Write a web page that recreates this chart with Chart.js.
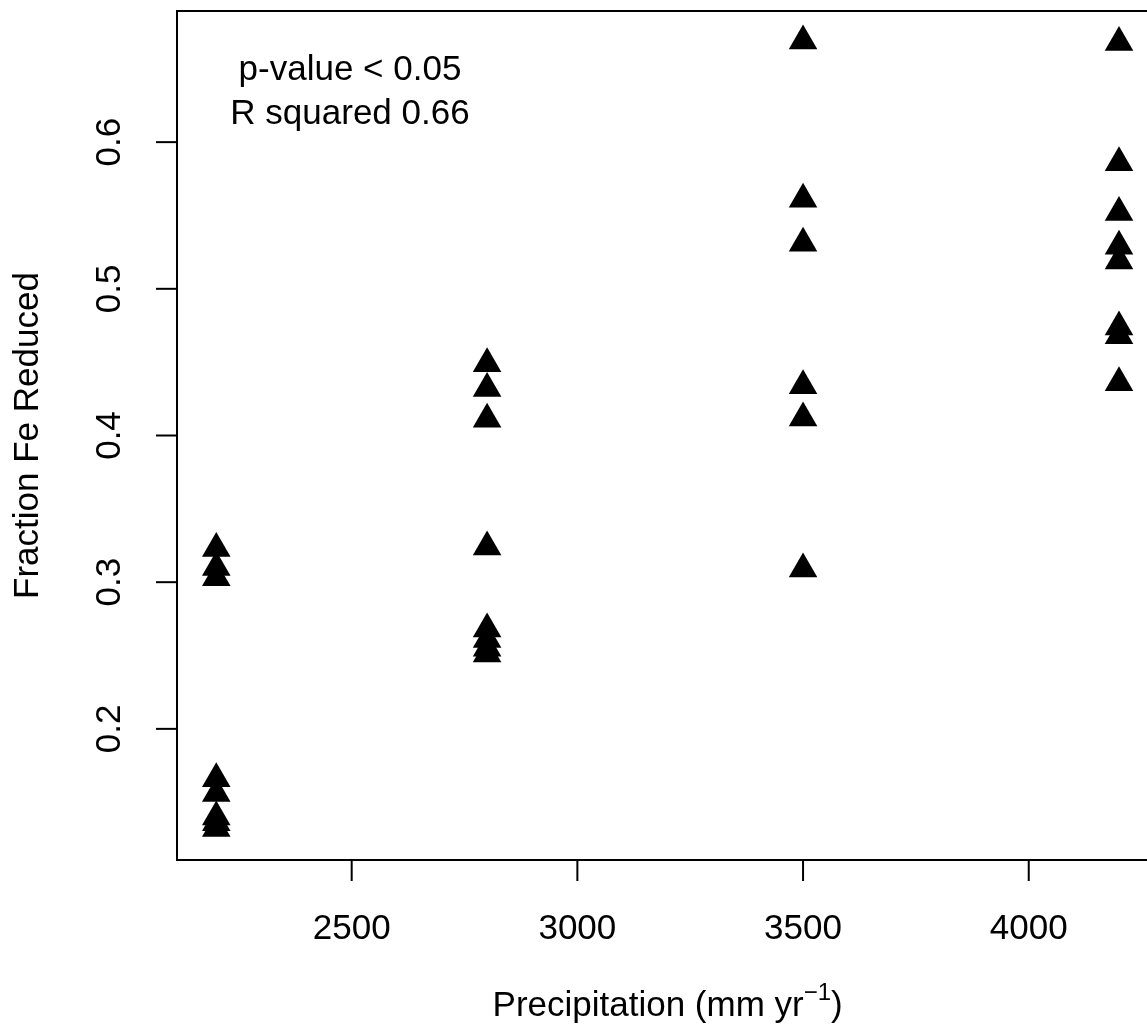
<!DOCTYPE html>
<html>
<head>
<meta charset="utf-8">
<script src="https://cdn.jsdelivr.net/npm/chart.js@4.4.1/dist/chart.umd.min.js"></script>
<style>
html, body { margin: 0; padding: 0; background: #fff; overflow: hidden; }
#wrap { width: 1147px; height: 1028px; }
canvas { display: block; }
</style>
</head>
<body>
<div id="wrap"><canvas id="plot" width="1147" height="1028"></canvas></div>
<script>
// measurements per site
const precipitation = [
    2200, 2200, 2200, 2200, 2200, 2200, 2200, 2200,
    2800, 2800, 2800, 2800, 2800, 2800, 2800, 2800,
    3500, 3500, 3500, 3500, 3500, 3500,
    4200, 4200, 4200, 4200, 4200, 4200, 4200, 4200
];
const fractionFe = [
    0.323, 0.310, 0.303, 0.166, 0.156, 0.140, 0.136, 0.132,
    0.449, 0.432, 0.411, 0.324, 0.268, 0.261, 0.255, 0.251,
    0.669, 0.561, 0.531, 0.434, 0.412, 0.309,
    0.668, 0.586, 0.552, 0.529, 0.519, 0.474, 0.468, 0.436
];
const xTicks = [2500, 3000, 3500, 4000];
const yTicks = [0.2, 0.3, 0.4, 0.5, 0.6];
// the plot region runs past the right edge of the page
const xRange = [2113, 4262];
const yRange = [0.1106, 0.6894];
const statLines = ['p-value < 0.05', 'R squared 0.66'];

const FONT = '35px "Liberation Sans", Arial, sans-serif';
const SMALL = '24px "Liberation Sans", Arial, sans-serif';

const points = precipitation.map((p, i) => ({ x: p, y: fractionFe[i] }));

// R-style frame, outward ticks and labels
const basePlot = {
    id: 'basePlot',
    afterDraw(chart) {
        const ctx = chart.ctx;
        const a = chart.chartArea;
        const xs = chart.scales.x;
        const ys = chart.scales.y;
        ctx.save();
        ctx.strokeStyle = '#000';
        ctx.fillStyle = '#000';
        ctx.lineWidth = 2;
        ctx.beginPath();
        ctx.moveTo(a.right + 10, a.top);
        ctx.lineTo(a.left, a.top);
        ctx.lineTo(a.left, a.bottom);
        ctx.lineTo(a.right + 10, a.bottom);
        ctx.stroke();

        ctx.font = FONT;
        ctx.textAlign = 'center';
        ctx.textBaseline = 'alphabetic';
        xTicks.forEach(v => {
            const px = xs.getPixelForValue(v);
            ctx.beginPath();
            ctx.moveTo(px, a.bottom);
            ctx.lineTo(px, a.bottom + 21);
            ctx.stroke();
            ctx.fillText(String(v), px, 939);
        });

        yTicks.forEach(v => {
            const py = ys.getPixelForValue(v);
            ctx.beginPath();
            ctx.moveTo(a.left - 21, py);
            ctx.lineTo(a.left, py);
            ctx.stroke();
            ctx.save();
            ctx.translate(120, py);
            ctx.rotate(-Math.PI / 2);
            ctx.fillText(v.toFixed(1), 0, 0);
            ctx.restore();
        });

        // y axis title
        ctx.save();
        ctx.translate(38, (a.top + a.bottom) / 2);
        ctx.rotate(-Math.PI / 2);
        ctx.fillText('Fraction Fe Reduced', 0, 0);
        ctx.restore();

        // x axis title with superscript, centred on the full plot width
        const mainTxt = 'Precipitation (mm yr';
        const supTxt = '\u22121';
        const endTxt = ')';
        ctx.font = FONT;
        const w1 = ctx.measureText(mainTxt).width;
        const w3 = ctx.measureText(endTxt).width;
        ctx.font = SMALL;
        const w2 = ctx.measureText(supTxt).width;
        const cx = (xs.getPixelForValue(2120) + xs.getPixelForValue(4280)) / 2;
        const x0 = cx - (w1 + w2 + w3) / 2;
        ctx.textAlign = 'left';
        ctx.font = FONT;
        ctx.fillText(mainTxt, x0, 1016);
        ctx.font = SMALL;
        ctx.fillText(supTxt, x0 + w1, 1000);
        ctx.font = FONT;
        ctx.fillText(endTxt, x0 + w1 + w2, 1016);

        // fit statistics
        ctx.textAlign = 'center';
        ctx.fillText(statLines[0], 350, 80);
        ctx.fillText(statLines[1], 350, 124);
        ctx.restore();
    }
};

new Chart(document.getElementById('plot').getContext('2d'), {
    type: 'scatter',
    data: {
        datasets: [{
            data: points,
            pointStyle: 'triangle',
            pointRadius: 16.5,
            pointHoverRadius: 16.5,
            backgroundColor: '#000',
            borderColor: '#000',
            borderWidth: 0
        }]
    },
    options: {
        responsive: false,
        animation: false,
        clip: false,
        layout: {
            autoPadding: false,
            padding: { left: 177, top: 11, right: 0, bottom: 168 }
        },
        scales: {
            x: { type: 'linear', display: false, min: xRange[0], max: xRange[1] },
            y: { type: 'linear', display: false, min: yRange[0], max: yRange[1] }
        },
        plugins: {
            legend: { display: false },
            tooltip: { enabled: false }
        }
    },
    plugins: [basePlot]
});
</script>
</body>
</html>
